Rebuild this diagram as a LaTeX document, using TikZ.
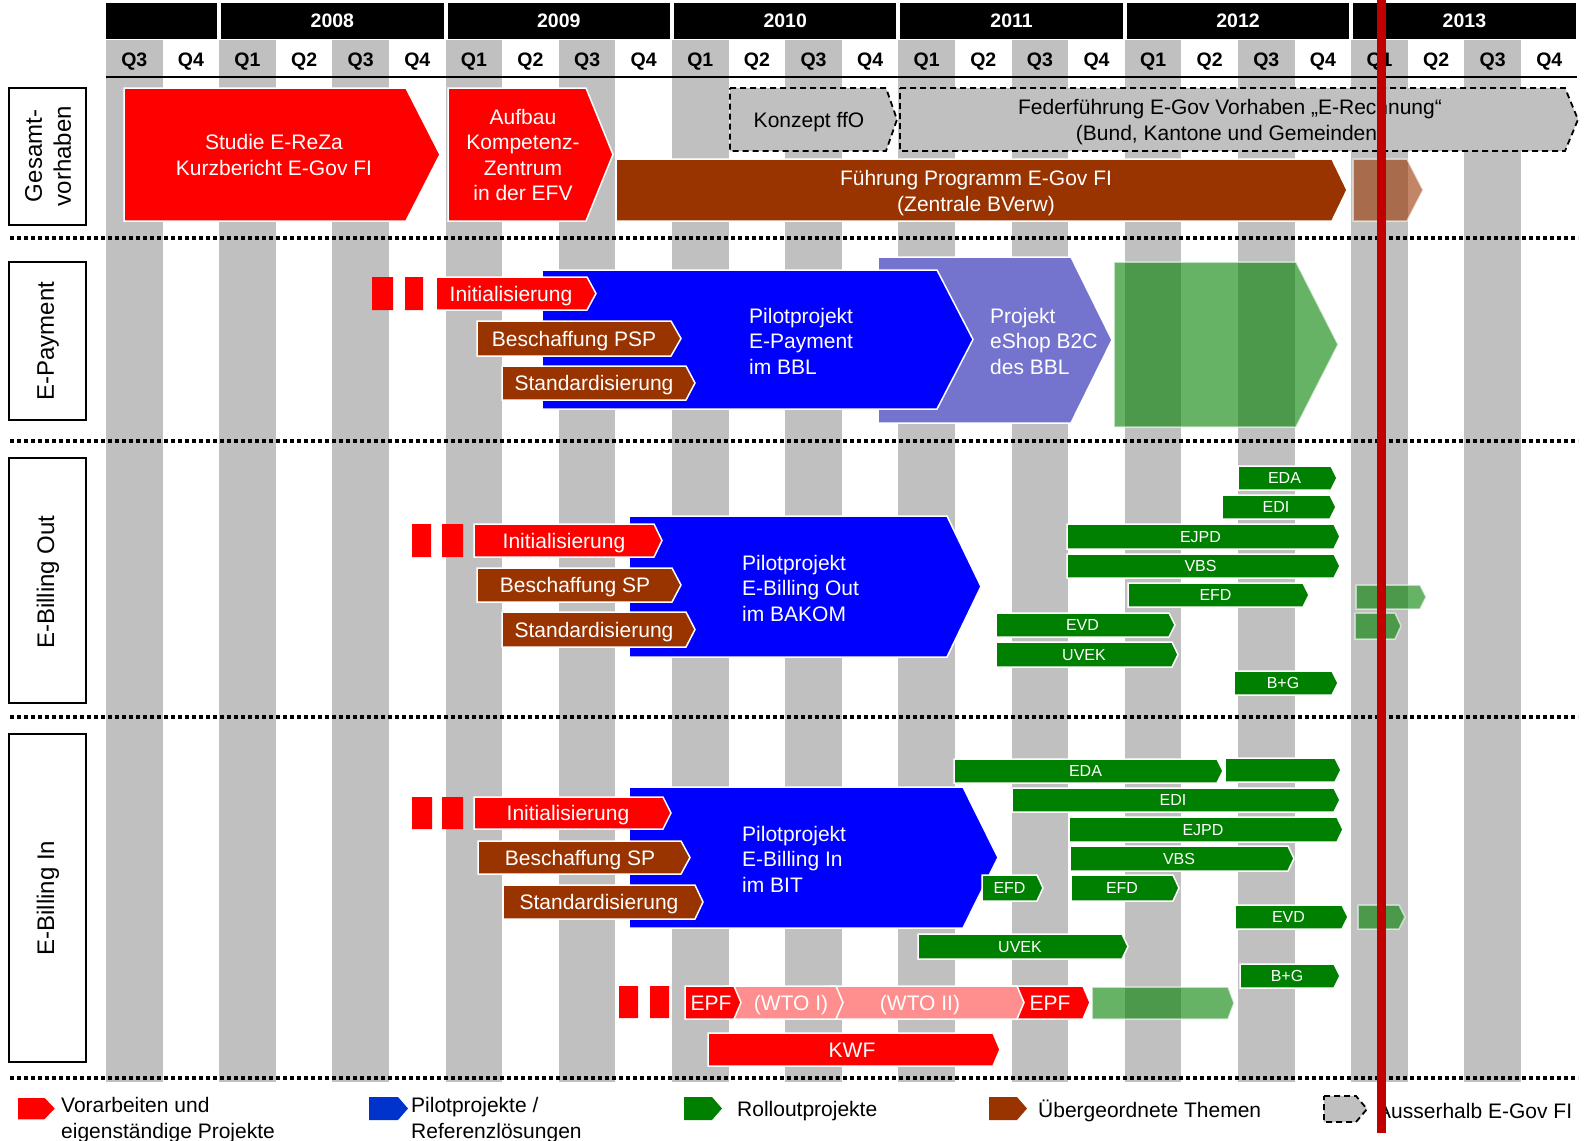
\documentclass[tikz,border=0pt]{standalone}
\usepackage{fontspec}
\setmainfont{Liberation Sans}
\usepackage{tikz}
\definecolor{egRot}{HTML}{FF0000}
\definecolor{egBraun}{HTML}{993300}
\definecolor{egBlau}{HTML}{0000FF}
\definecolor{egLila}{HTML}{7474CE}
\definecolor{egGruen}{HTML}{008000}
\definecolor{egGrau}{HTML}{C0C0C0}
\definecolor{egRosa}{HTML}{FF8F8F}
\definecolor{egLinie}{HTML}{C00000}
\definecolor{egLegBlau}{HTML}{0033CC}
\newcommand{\pfeil}[6]{%
  \path[#1] (#2,#4) -- ({#3-#6},#4) -- (#3,{(#4+#5)/2}) -- ({#3-#6},#5) -- (#2,#5) -- cycle;}

\begin{document}
\begin{tikzpicture}[x=1pt,y=-1pt,
    rotBox/.style={fill=egRot, draw=white, line width=1.5pt},
    braunBox/.style={fill=egBraun, draw=white, line width=1.5pt},
    blauBox/.style={fill=egBlau, draw=white, line width=1.5pt},
    lilaBox/.style={fill=egLila, draw=white, line width=1.5pt},
    gruenBox/.style={fill=egGruen, draw=white, line width=1.5pt},
    rosaBox/.style={fill=egRosa, draw=white, line width=1.5pt},
    grauBox/.style={fill=egGrau, draw=black, line width=1.8pt, dash pattern=on 6pt off 4pt},
    blass/.style={opacity=0.6},
    txt/.style={inner sep=0pt, text=white, align=center, font=\fontsize{21}{25.5}\selectfont},
    zeile/.style={txt, text height=15pt, text depth=0pt},
    kleinTxt/.style={inner sep=0pt, text=white, text height=11.5pt, text depth=0pt, font=\fontsize{16}{18}\selectfont},
    qTxt/.style={inner sep=0pt, text height=14pt, text depth=0pt, font=\bfseries\fontsize{19.5}{22}\selectfont},
    rowTxt/.style={inner sep=0pt, rotate=90, align=center, font=\fontsize{24}{29}\selectfont},
    legTxt/.style={inner sep=0pt, anchor=west, align=left, font=\fontsize{21}{25.5}\selectfont},
    trenner/.style={line width=3.5pt, dash pattern=on 4pt off 3pt}]
    \useasboundingbox (0,0) rectangle (1591,1141);
    \foreach \i in {0,2,...,24}
        \fill[egGrau] ({106+56.6*\i},40) rectangle ++(56.6,1042);
    \fill (106,3) rectangle (217,39);
    \foreach \j/\yr in {0/2008,1/2009,2/2010,3/2011,4/2012,5/2013}{
        \fill ({106+56.6*(4*\j+2)+2},3) rectangle ({106+56.6*(4*\j+6)-2},39);
        \node[qTxt, text=white] (y\yr) at ({106+56.6*(4*\j+4)},20) {\yr};
    }
    \foreach \i in {0,...,25}{
        \pgfmathtruncatemacro\qn{mod(\i+2,4)+1}
        \node[qTxt] (q\i) at ({106+56.6*(\i+0.5)},59) {Q\qn};
    }
    \draw[line width=2.5pt] (106,77) -- (1577,77);
    \foreach \y in {238,441,717,1078}
        \draw[trenner] (10,\y) -- (1578,\y);

    \draw[line width=2pt] (9,88) rectangle (86,225);
    \node[rowTxt] (gesamt) at (48,156) {Gesamt-\\vorhaben};
    \draw[line width=2pt] (9,262) rectangle (86,420);
    \node[rowTxt] (epay) at (48,341) {E-Payment};
    \draw[line width=2pt] (9,458) rectangle (86,703);
    \node[rowTxt] (ebout) at (48,582) {E-Billing Out};
    \draw[line width=2pt] (9,734) rectangle (86,1062);
    \node[rowTxt] (ebin) at (48,898) {E-Billing In};

    \pfeil{rotBox}{124}{440}{88}{221}{34}
    \node[txt] (studie) at (274,155) {Studie E-ReZa\\Kurzbericht E-Gov FI};
    \pfeil{rotBox}{448}{613}{88}{221}{27}
    \node[txt] (aufbau) at (523,155) {Aufbau\\Kompetenz-\\Zentrum\\in der EFV};
    \pfeil{grauBox}{730}{897}{88}{151}{11}
    \node[zeile, text=black] (konzept) at (809,120) {Konzept ffO};
    \pfeil{grauBox}{900}{1578}{88}{151}{13}
    \node[txt, text=black] (federf) at (1230,122) {Federführung E-Gov Vorhaben „E-Rechnung“\\(Bund, Kantone und Gemeinden)};
    \pfeil{braunBox}{616}{1347}{159}{221}{15}
    \node[txt] (fuehrung) at (976,193) {Führung Programm E-Gov FI\\(Zentrale BVerw)};
    \pfeil{braunBox,blass}{1353}{1423}{159}{221}{16}

    \pfeil{lilaBox}{878}{1112}{257}{423}{41}
    \node[txt, anchor=west, align=left] (eshop) at (990,341) {Projekt\\eShop B2C\\des BBL};
    \pfeil{blauBox}{542}{973}{270}{409}{36}
    \node[txt, anchor=west, align=left] (pilotPay) at (749,341) {Pilotprojekt\\E-Payment\\im BBL};
    \fill[egRot] (372,277) rectangle (393,310) (405,277) rectangle (423,310);
    \pfeil{rotBox}{436}{596}{277}{310}{9}
    \node[zeile] (initPay) at (511,293.5) {Initialisierung};
    \pfeil{braunBox}{477}{681}{321}{356}{10}
    \node[zeile] (pspPay) at (574,338.5) {Beschaffung PSP};
    \pfeil{braunBox}{502}{695}{366}{400}{9}
    \node[zeile] (stdPay) at (594,383) {Standardisierung};
    \pfeil{gruenBox,blass}{1114}{1338}{262}{427}{42}

    \pfeil{blauBox}{629}{981}{516}{657}{34}
    \node[txt, anchor=west, align=left] (pilotOut) at (742,588) {Pilotprojekt\\E-Billing Out\\im BAKOM};
    \fill[egRot] (412,524) rectangle (431,557) (442,524) rectangle (463,557);
    \pfeil{rotBox}{474}{662}{524}{557}{8}
    \node[zeile] (initOut) at (564,540.5) {Initialisierung};
    \pfeil{braunBox}{477}{681}{568}{602}{9}
    \node[zeile] (spOut) at (575,585) {Beschaffung SP};
    \pfeil{braunBox}{502}{695}{612}{647}{9}
    \node[zeile] (stdOut) at (594,629.5) {Standardisierung};
    \foreach \a/\b/\c/\d/\t/\n in {1238/1337/466/490/EDA/outEda, 1222/1336/495/519/EDI/outEdi,
        1067/1340/524/549/EJPD/outEjpd, 1067/1340/554/578/VBS/outVbs, 1128/1309/583/607/EFD/outEfd,
        996/1175/613/637/EVD/outEvd, 996/1178/642/667/UVEK/outUvek, 1234/1338/671/695/B+G/outBg}{
        \pfeil{gruenBox}{\a}{\b}{\c}{\d}{6}
        \node[kleinTxt] (\n) at ({(\a+\b-6)/2},{(\c+\d)/2}) {\t};
    }
    \pfeil{gruenBox,blass}{1356}{1426}{585}{609}{6}
    \pfeil{gruenBox,blass}{1355}{1401}{613}{639}{6}

    \pfeil{blauBox}{629}{998}{787}{928}{35}
    \node[txt, anchor=west, align=left] (pilotIn) at (742,859) {Pilotprojekt\\E-Billing In\\im BIT};
    \fill[egRot] (412,797) rectangle (432,829) (442,797) rectangle (463,829);
    \pfeil{rotBox}{474}{671}{797}{829}{8}
    \node[zeile] (initIn) at (568,813) {Initialisierung};
    \pfeil{braunBox}{478}{690}{841}{874}{9}
    \node[zeile] (spIn) at (580,857.5) {Beschaffung SP};
    \pfeil{braunBox}{503}{703}{885}{919}{8}
    \node[zeile] (stdIn) at (599,902) {Standardisierung};
    \pfeil{gruenBox}{1225}{1341}{758}{782}{6}
    \foreach \a/\b/\c/\d/\t/\n in {954/1223/759/783/EDA/inEda, 1012/1340/788/812/EDI/inEdi,
        1069/1343/817/842/EJPD/inEjpd, 1070/1294/846/871/VBS/inVbs, 982/1043/875/901/EFD/inEfdA,
        1071/1179/875/901/EFD/inEfdB, 1235/1348/905/929/EVD/inEvd, 918/1128/934/959/UVEK/inUvek,
        1240/1340/964/988/B+G/inBg}{
        \pfeil{gruenBox}{\a}{\b}{\c}{\d}{6}
        \node[kleinTxt] (\n) at ({(\a+\b-6)/2},{(\c+\d)/2}) {\t};
    }
    \pfeil{gruenBox,blass}{1358}{1405}{905}{929}{6}

    \fill[egRot] (619,986) rectangle (638,1018) (650,986) rectangle (669,1018);
    \pfeil{gruenBox,blass}{1092}{1234}{987}{1019}{6}
    \pfeil{rotBox}{1012}{1090}{986}{1019}{7}
    \node[zeile] (epfB) at (1050,1002.5) {EPF};
    \pfeil{rosaBox}{830}{1024}{986}{1019}{7}
    \node[zeile] (wtoB) at (920,1002.5) {(WTO II)};
    \pfeil{rosaBox}{725}{843}{986}{1019}{7}
    \node[zeile] (wtoA) at (791,1002.5) {(WTO I)};
    \pfeil{rotBox}{685}{741}{986}{1019}{7}
    \node[zeile] (epfA) at (711,1002.5) {EPF};
    \pfeil{rotBox}{708}{1000}{1033}{1066}{7}
    \node[zeile] (kwf) at (852,1049.5) {KWF};

    \pfeil{rotBox}{17}{56}{1097}{1120}{11}
    \node[legTxt] (legRot) at (61,1120) {Vorarbeiten und\\eigenständige Projekte};
    \pfeil{fill=egLegBlau}{369}{408}{1097}{1120}{10}
    \node[legTxt] (legBlau) at (411,1120) {Pilotprojekte /\\Referenzlösungen};
    \pfeil{fill=egGruen}{684}{722}{1097}{1120}{10}
    \node[legTxt] (legGruen) at (737,1111) {Rolloutprojekte};
    \pfeil{fill=egBraun}{989}{1027}{1097}{1120}{10}
    \node[legTxt] (legBraun) at (1038,1111) {Übergeordnete Themen};
    \pfeil{grauBox}{1324}{1367}{1096}{1122}{11}
    \node[legTxt] (legGrau) at (1377,1111) {Ausserhalb E-Gov FI};

    \draw[line width=9pt, egLinie] (1381,0) -- (1381,1133);
\end{tikzpicture}
\end{document}
